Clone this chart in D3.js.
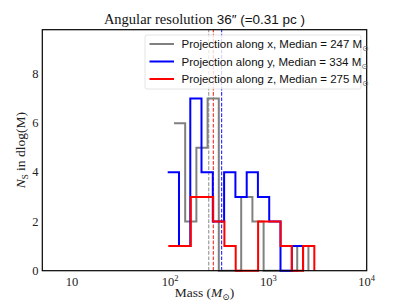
<!DOCTYPE html>
<html><head><meta charset="utf-8">
<script src="https://cdn.jsdelivr.net/npm/d3@7"></script>
<style>body{margin:0;background:#fff}svg{display:block}</style>
</head><body>
<script>
// ---- data ----
const seriesNames = ["Projection along x", "Projection along y", "Projection along z"];
const medians = [247, 334, 275];
const edgesX = [109.4, 142.2, 184.9, 240.4, 312.6, 406.4, 528.4, 687.1, 893.4, 1161, 1510, 1963, 2553];
const countsX = [6, 2, 5, 7, 0, 0, 3, 2, 0, 0, 0, 1];
const edgesY = [94.4, 123.0, 160.3, 208.4, 271.6, 354.0, 461.3, 601.2, 781.6, 1018.6, 1327, 1730, 2254];
const countsY = [4, 1, 7, 4, 2, 4, 3, 4, 3, 2, 0, 1];
const edgesZ = [95.7, 124.5, 162.2, 210.9, 274.2, 356.5, 464.5, 603.9, 785.2, 1023, 1330, 1730, 2249, 2931];
const countsZ = [1, 1, 3, 3, 2, 1, 0, 0, 2, 2, 1, 0, 1];
const xTicks = [10, 100, 1000, 10000];
const xTickExp = ["", "2", "3", "4"];
const yTicks = [0, 2, 4, 6, 8];
const colors = ["#808080", "#0000ff", "#ff0000"];

const W = 407, H = 303;
const svg = d3.select("body").append("svg").attr("width", W).attr("height", H);
const L = 42.3, R = 366.7, T = 29.7, B = 270.7;
const x = d3.scaleLog().domain([5, 1e4]).range([L, R]);
const y = d3.scaleLinear().domain([0, 9.8]).range([B, T]);

const serif = "'Liberation Serif', 'DejaVu Serif', serif";
const sans = "'Liberation Sans', 'DejaVu Sans', sans-serif";

// median dashed lines
medians.forEach((m, i) => {
  svg.append("line").attr("x1", x(m)).attr("x2", x(m)).attr("y1", B).attr("y2", T)
    .attr("stroke", colors[i]).attr("stroke-width", 1.1).attr("stroke-opacity", 0.85)
    .attr("stroke-dasharray", "3.7,1.6");
});

// histograms
const series = [[edgesX, countsX], [edgesY, countsY], [edgesZ, countsZ]];
series.forEach(([e, c], i) => {
  const pts = [];
  c.forEach((v, k) => { pts.push([x(e[k]), y(v)]); pts.push([x(e[k + 1]), y(v)]); });
  pts.push([x(e[e.length - 1]), y(0)]);
  svg.append("path").attr("d", d3.line()(pts)).attr("fill", "none")
    .attr("stroke", colors[i]).attr("stroke-width", 2).attr("stroke-linejoin", "miter");
});

// frame
svg.append("rect").attr("x", L).attr("y", T).attr("width", R - L).attr("height", B - T)
  .attr("fill", "none").attr("stroke", "#000").attr("stroke-width", 1.2);

// x tick labels
xTicks.forEach((t, i) => {
  const g = svg.append("text").attr("x", x(t)).attr("y", 286).attr("text-anchor", "middle")
    .attr("font-family", serif).attr("font-size", 12.5).attr("fill", "#222");
  g.append("tspan").text("10");
  if (xTickExp[i]) g.append("tspan").attr("dy", -5).attr("font-size", 8.5).text(xTickExp[i]);
});
// y tick labels
yTicks.forEach(t => {
  svg.append("text").attr("x", 38.5).attr("y", y(t) + 4).attr("text-anchor", "end")
    .attr("font-family", serif).attr("font-size", 12.5).attr("fill", "#222").text(t);
});

// axis labels
const xl = svg.append("text").attr("x", (L + R) / 2).attr("y", 297).attr("text-anchor", "middle")
  .attr("font-family", serif).attr("font-size", 13.5).attr("fill", "#222");
xl.append("tspan").text("Mass (");
xl.append("tspan").attr("font-style", "italic").text("M");
xl.append("tspan").attr("dy", 3).attr("font-size", 9).text("⊙");
xl.append("tspan").attr("dy", -3).text(")");

const yl = svg.append("text").attr("transform", `translate(25,${(T + B) / 2}) rotate(-90)`)
  .attr("text-anchor", "middle").attr("font-family", serif).attr("font-size", 13.5).attr("fill", "#222");
yl.append("tspan").attr("font-style", "italic").text("N");
yl.append("tspan").attr("dy", 3).attr("font-size", 9).text("S");
yl.append("tspan").attr("dy", -3).text(" in dlog(M)");

// title
const tt = svg.append("text").attr("x", (L + R) / 2).attr("y", 24).attr("text-anchor", "middle")
  .attr("font-size", 14.5).attr("fill", "#111");
tt.append("tspan").attr("font-family", serif).text("Angular resolution ");
tt.append("tspan").attr("font-family", sans).attr("font-size", 13.5).text("36\u2033 (=0.31 pc )");

// legend
svg.append("rect").attr("x", 145).attr("y", 35).attr("width", 216).attr("height", 54)
  .attr("rx", 2).attr("fill", "#fff").attr("fill-opacity", 0.8).attr("stroke", "#ddd").attr("stroke-width", 0.8);
seriesNames.forEach((n, i) => {
  const yy = 44 + i * 17.5;
  svg.append("line").attr("x1", 149.5).attr("x2", 174).attr("y1", yy).attr("y2", yy)
    .attr("stroke", colors[i]).attr("stroke-width", 2);
  const t = svg.append("text").attr("x", 181.5).attr("y", yy + 4).attr("font-family", sans)
    .attr("font-size", 11.5).attr("fill", "#111");
  t.append("tspan").text(`${n}, Median = ${medians[i]} M`);
  t.append("tspan").attr("dy", 3).attr("font-size", 8).attr("fill", "#666").text("⊙");
});
</script>
</body></html>
